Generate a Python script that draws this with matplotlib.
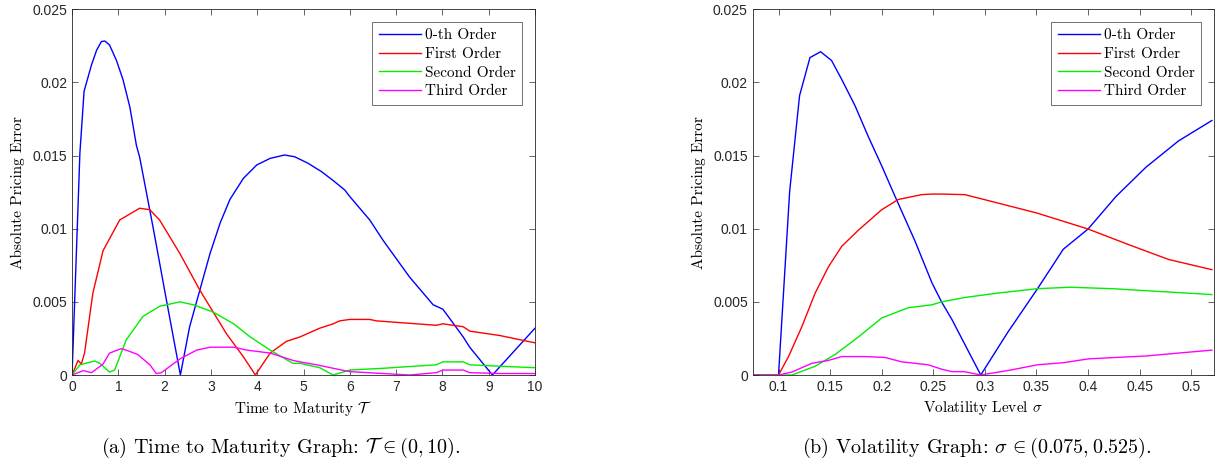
"""
Absolute pricing error of the expansion orders, two panels:
(a) against time to maturity, (b) against volatility level.
"""
import numpy as np
import matplotlib
matplotlib.use('Agg')
import matplotlib.pyplot as plt

plt.rcParams.update({
    'mathtext.fontset': 'cm',
    'font.family': ['Liberation Sans', 'DejaVu Sans'],
    'xtick.direction': 'in', 'ytick.direction': 'in',
    'xtick.top': True, 'ytick.right': True,
    'axes.linewidth': 0.6,
    'xtick.major.width': 0.5, 'ytick.major.width': 0.5,
    'xtick.major.size': 4, 'ytick.major.size': 4,
    'axes.edgecolor': '0.15',
    'xtick.color': '0.15', 'ytick.color': '0.15',
})
SERIF = 'cmr10'
COLORS = ['#0000ff', '#ff0000', '#00ee00', '#ff00ff']
LABELS = ['0-th Order', 'First Order', 'Second Order', 'Third Order']

# ---- panel (a): time to maturity ----
t_zero = [0, 0.17, 0.26, 0.42, 0.53, 0.635, 0.71, 0.81, 0.96, 1.1, 1.25, 1.39, 1.46,
          1.75, 2.04, 2.34, 2.54, 2.76, 2.98, 3.2, 3.41, 3.7, 3.99, 4.28, 4.59, 4.81,
          5.1, 5.39, 5.67, 5.89, 6.0, 6.43, 6.72, 7.29, 7.8, 8.01, 8.45, 8.59, 9.08,
          10.0]
err_zero_t = [0, 0.0152, 0.0194, 0.0212, 0.0222, 0.0228, 0.02283, 0.02256, 0.0215,
              0.0202, 0.0183, 0.0157, 0.0149, 0.0101, 0.0051, 0.0, 0.0033, 0.0058,
              0.0083, 0.0104, 0.0120, 0.01344, 0.01436, 0.01481, 0.01504, 0.01492,
              0.01447, 0.0139, 0.01322, 0.01265, 0.0122, 0.0106, 0.0092, 0.0067,
              0.0048, 0.0045, 0.0026, 0.0019, 0.0, 0.0032]

t_first = [0, 0.13, 0.2, 0.27, 0.45, 0.67, 1.03, 1.46, 1.68, 1.89, 2.33, 2.76, 3.34,
           3.7, 3.96, 4.28, 4.63, 4.92, 5.35, 5.64, 5.78, 6.0, 6.43, 6.58, 7.44,
           7.87, 8.01, 8.45, 8.59, 9.24, 10.0]
err_first_t = [0, 0.0010, 0.00075, 0.0015, 0.0056, 0.0085, 0.0106, 0.0114, 0.0113,
               0.0106, 0.0083, 0.0058, 0.0028, 0.00125, 0.0, 0.0015, 0.0023, 0.0026,
               0.0032, 0.0035, 0.0037, 0.0038, 0.0038, 0.0037, 0.0035, 0.0034,
               0.0035, 0.0033, 0.0030, 0.0027, 0.0022]

t_second = [0, 0.17, 0.49, 0.6, 0.81, 0.92, 1.17, 1.53, 1.89, 2.33, 2.62, 3.05, 3.49,
            3.85, 4.28, 4.77, 4.92, 5.35, 5.64, 6.0, 6.72, 7.87, 8.01, 8.45, 8.59,
            9.24, 10.0]
err_second_t = [0, 0.0007, 0.00096, 0.0008, 0.0002, 0.00034, 0.0024, 0.0040, 0.0047,
                0.0050, 0.0048, 0.0043, 0.0035, 0.0026, 0.0017, 0.0008, 0.0008,
                0.0005, 0.0, 0.00034, 0.00046, 0.0007, 0.0009, 0.0009, 0.0007,
                0.0006, 0.0005]

t_third = [0, 0.24, 0.42, 0.67, 0.81, 1.06, 1.17, 1.42, 1.68, 1.82, 1.93, 2.33, 2.69,
           2.98, 3.49, 3.78, 4.28, 4.77, 4.92, 5.28, 5.64, 6.0, 7.29, 7.87, 8.01,
           8.45, 8.59, 9.24, 10.0]
err_third_t = [0, 0.0003, 0.00016, 0.00075, 0.0015, 0.0018, 0.0017, 0.0014, 0.0007,
               0.0001, 0.00016, 0.0011, 0.0017, 0.0019, 0.0019, 0.0017, 0.0015,
               0.0010, 0.0009, 0.0007, 0.00046, 0.00023, 0.0, 0.00016, 0.00034,
               0.00034, 0.00016, 0.0001, 0.0001]

# ---- panel (b): volatility level ----
s_zero = [0.075, 0.1, 0.1108, 0.1204, 0.1305, 0.1408, 0.1514, 0.1613, 0.1742, 0.187,
          0.2, 0.213, 0.232, 0.2487, 0.258, 0.268, 0.296, 0.322, 0.351, 0.376, 0.4,
          0.427, 0.456, 0.4876, 0.52]
err_zero_s = [0, 0, 0.01255, 0.0191, 0.0217, 0.0221, 0.0215, 0.0202, 0.0184, 0.0163,
              0.0143, 0.0122, 0.0092, 0.0063, 0.0050, 0.0038, 0.0, 0.0029, 0.0059,
              0.0086, 0.00998, 0.0122, 0.0142, 0.0160, 0.0174]

s_first = [0.075, 0.1, 0.1097, 0.1226, 0.1355, 0.1484, 0.1613, 0.1774, 0.2, 0.2161,
           0.2387, 0.2487, 0.258, 0.2806, 0.3124, 0.3506, 0.4, 0.4398, 0.478, 0.52]
err_first_s = [0, 0, 0.00126, 0.0033, 0.0056, 0.0074, 0.0088, 0.0099, 0.0113, 0.0120,
               0.01233, 0.01237, 0.01237, 0.01233, 0.01176, 0.01107, 0.00998, 0.0089,
               0.0079, 0.0072]

s_second = [0.075, 0.1, 0.1129, 0.1355, 0.1548, 0.1774, 0.2, 0.2258, 0.2487, 0.258,
            0.2806, 0.3124, 0.3506, 0.3825, 0.424, 0.4717, 0.52]
err_second_s = [0, 0, 0, 0.0006, 0.0014, 0.0026, 0.0039, 0.0046, 0.0048, 0.0050,
                0.0053, 0.0056, 0.0059, 0.0060, 0.0059, 0.0057, 0.0055]

s_third = [0.075, 0.1, 0.1129, 0.1323, 0.1484, 0.1613, 0.1839, 0.2032, 0.2194, 0.245,
           0.258, 0.268, 0.28, 0.296, 0.325, 0.351, 0.376, 0.4, 0.427, 0.456,
           0.4876, 0.52]
err_third_s = [0, 0, 0.0002, 0.0008, 0.0010, 0.00126, 0.00126, 0.0012, 0.0009,
               0.0007, 0.0004, 0.00023, 0.00023, 0.0, 0.00034, 0.0007, 0.00084,
               0.0011, 0.0012, 0.0013, 0.0015, 0.0017]

y_ticks = [0, 0.005, 0.01, 0.015, 0.02, 0.025]
y_ticklabels = ['0', '0.005', '0.01', '0.015', '0.02', '0.025']
t_ticks = list(range(0, 11))
s_ticks = [0.1, 0.15, 0.2, 0.25, 0.3, 0.35, 0.4, 0.45, 0.5]
s_ticklabels = ['0.1', '0.15', '0.2', '0.25', '0.3', '0.35', '0.4', '0.45', '0.5']


def draw_panel(ax, series, xlim, xticks, xticklabels, xlabel):
    for (x, y), c, lab in zip(series, COLORS, LABELS):
        ax.plot(x, y, color=c, lw=1.0, label=lab)
    ax.set_xlim(*xlim)
    ax.set_ylim(0, 0.025)
    ax.set_xticks(xticks)
    ax.set_xticklabels(xticklabels, fontsize=10)
    ax.set_yticks(y_ticks)
    ax.set_yticklabels(y_ticklabels, fontsize=10)
    ax.set_xlabel(xlabel, fontfamily=SERIF, fontsize=11, labelpad=4)
    ax.set_ylabel('Absolute Pricing Error', fontfamily=SERIF, fontsize=11, labelpad=5)
    leg = ax.legend(loc='upper right', prop={'family': SERIF, 'size': 11},
                    fancybox=False, framealpha=1, edgecolor='0.35',
                    handlelength=2.75, handletextpad=0.26, borderpad=0.42,
                    labelspacing=0.32, borderaxespad=0.85)
    leg.get_frame().set_linewidth(0.6)


fig = plt.figure(figsize=(12.17, 4.70), dpi=100)
ax_a = fig.add_axes([0.0592, 0.2021, 0.3804, 0.7781])
ax_b = fig.add_axes([0.6185, 0.2021, 0.3790, 0.7781])

draw_panel(ax_a,
           [(t_zero, err_zero_t), (t_first, err_first_t),
            (t_second, err_second_t), (t_third, err_third_t)],
           (0, 10), t_ticks, [str(v) for v in t_ticks],
           r'Time to Maturity $\mathcal{T}$')
draw_panel(ax_b,
           [(s_zero, err_zero_s), (s_first, err_first_s),
            (s_second, err_second_s), (s_third, err_third_s)],
           (0.075, 0.522), s_ticks, s_ticklabels,
           r'Volatility Level $\sigma$')

fig.text(0.231, 0.047, r'(a) Time to Maturity Graph: $\mathcal{T}\,\in(0, 10)$.',
         fontfamily=SERIF, fontsize=14.5, ha='center', va='center')
fig.text(0.803, 0.047, r'(b) Volatility Graph: $\sigma\,\in(0.075, 0.525)$.',
         fontfamily=SERIF, fontsize=14.5, ha='center', va='center')

fig.savefig('out.png', dpi=100)
